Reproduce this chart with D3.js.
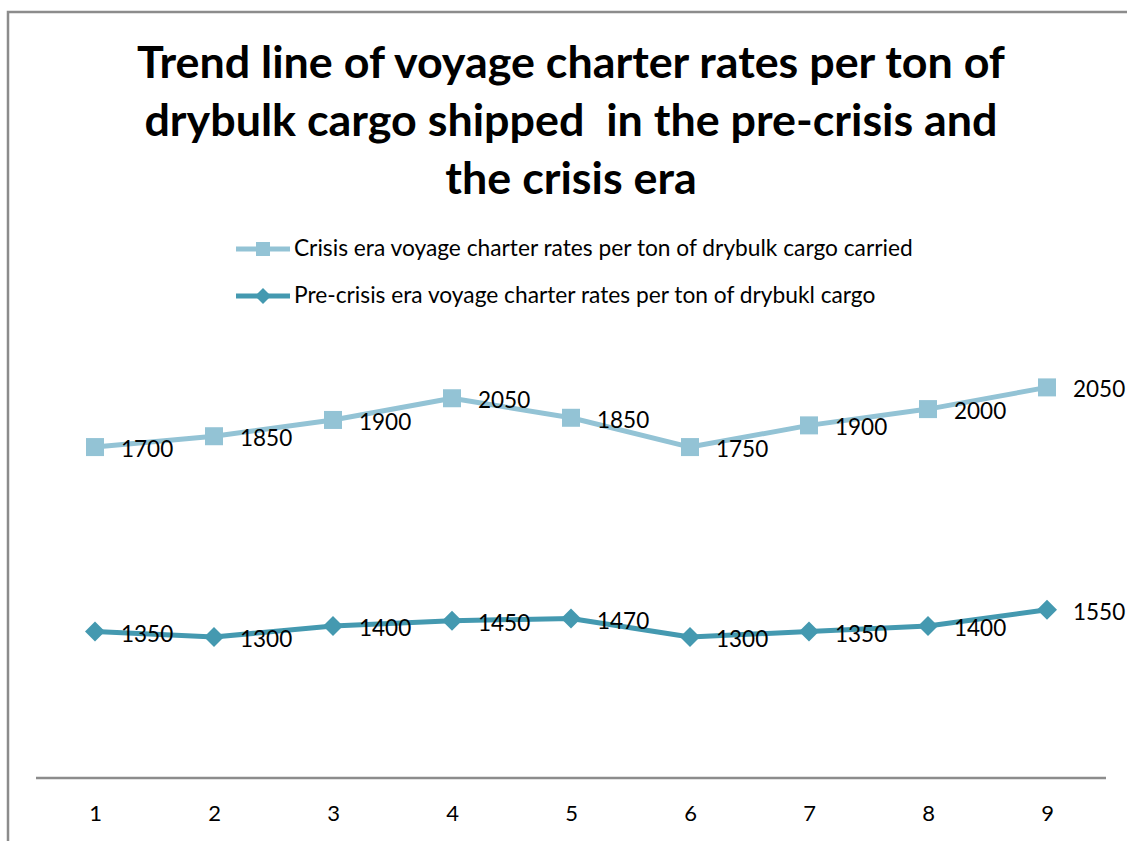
<!DOCTYPE html>
<html><head><meta charset="utf-8">
<script src="https://cdn.jsdelivr.net/npm/d3@7"></script>
<style>body{margin:0;background:#fff;}svg{display:block;}text{white-space:pre;}</style>
</head><body>
<svg id="c" width="1127" height="841"></svg>
<script>
const categories = ["1","2","3","4","5","6","7","8","9"];
const preCrisis = [1350,1300,1400,1450,1470,1300,1350,1400,1550];
const crisis = [1700,1850,1900,2050,1850,1750,1900,2000,2050];
const seriesNames = ["Pre-crisis era voyage charter rates per ton of drybukl cargo",
                     "Crisis era voyage charter rates per ton of drybulk cargo carried"];
const titleLines = ["Trend line of voyage charter rates per ton of",
                    "drybulk cargo shipped  in the pre-crisis and",
                    "the crisis era"];

const svg = d3.select("#c");
const font = "Lato, 'Open Sans', sans-serif";
const colPre = "#4499B0", colCrisis = "#93C3D5";

function fit(sel, target, base){
  const w = sel.node().getComputedTextLength();
  sel.attr("font-size", base*target/w);
}

// frame
svg.append("path").attr("d","M8,841 V12 H1127").attr("fill","none")
  .attr("stroke","#8c8c8c").attr("stroke-width",2.5);

// title
const tl = svg.append("g").selectAll("text").data(titleLines).join("text")
  .attr("x",571).attr("y",(d,i)=>78+i*58).attr("text-anchor","middle")
  .attr("font-family",font).attr("font-weight","bold").attr("font-size",40)
  .attr("fill","#000").text(d=>d);
fit(d3.select(tl.nodes()[0]), 868, 40);
tl.attr("font-size", d3.select(tl.nodes()[0]).attr("font-size"));

const rows = categories.map((c,i)=>({cat:c, pre:preCrisis[i], crisis:crisis[i]}));
const stacked = d3.stack().keys(["pre","crisis"])(rows);

const x = d3.scalePoint().domain(categories).range([95,1047]);
const y = d3.scaleLinear().domain([0,4000]).range([778,344]);

// x axis
const ax = svg.append("g").attr("transform","translate(0,778)")
  .call(d3.axisBottom(x).tickSize(0).tickPadding(27));
ax.select(".domain").attr("d","M36,0H1106").attr("stroke","#8c8c8c").attr("stroke-width",2.5);
ax.selectAll("text").attr("font-family",font).attr("font-size",22).attr("fill","#000");

const line = d3.line().x((d,i)=>x(categories[i])).y(d=>y(d[1]));
const cols = [colPre, colCrisis];
const labelVals = [preCrisis, crisis];

stacked.forEach((s,k)=>{
  const g = svg.append("g");
  g.append("path").datum(s).attr("d",line).attr("fill","none")
   .attr("stroke",cols[k]).attr("stroke-width",5).attr("stroke-linejoin","round");
  if(k===1){
    g.selectAll("rect").data(s).join("rect")
     .attr("x",(d,i)=>x(categories[i])-9).attr("y",d=>y(d[1])-9)
     .attr("width",18).attr("height",18).attr("fill",cols[k]);
  } else {
    g.selectAll("path.m").data(s).join("path").attr("class","m")
     .attr("d",(d,i)=>{const cx=x(categories[i]),cy=y(d[1]);return `M${cx},${cy-10}L${cx+10},${cy}L${cx},${cy+10}L${cx-10},${cy}Z`;})
     .attr("fill",cols[k]);
  }
  g.selectAll("text").data(s).join("text")
   .attr("x",(d,i)=>x(categories[i])+26).attr("y",(d,i)=>y(d[1])+10)
   .attr("font-family",font).attr("font-size",22.5).attr("fill","#000")
   .text((d,i)=>labelVals[k][i]);
});

// legend
const leg = svg.append("g");
const legItems = [{name:seriesNames[1], col:colCrisis, m:"sq", y:249},
                  {name:seriesNames[0], col:colPre, m:"di", y:296}];
let legSize = 19;
legItems.forEach((it,j)=>{
  leg.append("line").attr("x1",236).attr("x2",290).attr("y1",it.y).attr("y2",it.y)
    .attr("stroke",it.col).attr("stroke-width",5);
  if(it.m==="sq") leg.append("rect").attr("x",256).attr("y",it.y-7).attr("width",14).attr("height",14).attr("fill",it.col);
  else leg.append("path").attr("d",`M263,${it.y-8}L271,${it.y}L263,${it.y+8}L255,${it.y}Z`).attr("fill",it.col);
  const t = leg.append("text").attr("x",294).attr("y",it.y+7).attr("font-family",font).attr("font-size",19)
    .attr("fill","#000").text(it.name);
  if(j===0){ fit(t, 619, 19); legSize = +t.attr("font-size"); }
  else t.attr("font-size", legSize);
});
</script>
</body></html>
